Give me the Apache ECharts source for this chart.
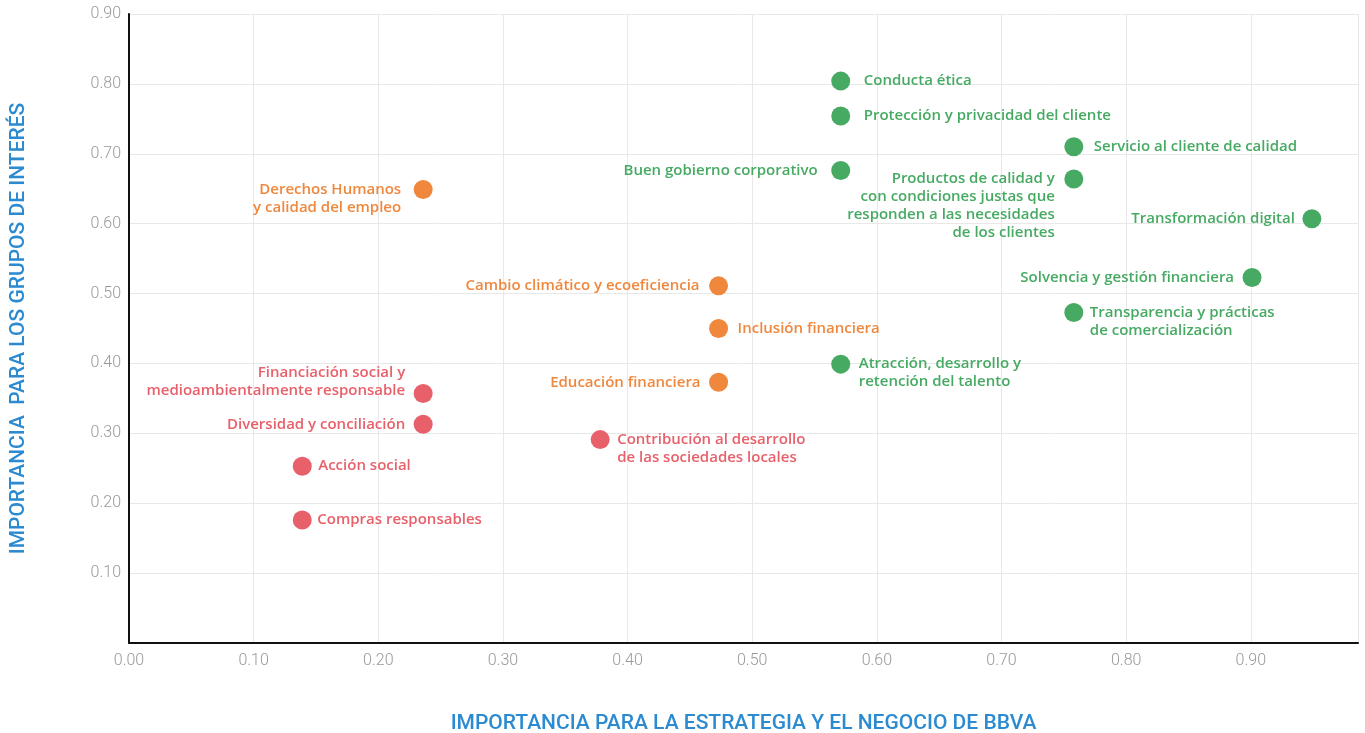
<!DOCTYPE html>
<html>
<head>
<meta charset="utf-8">
<script src="https://cdn.jsdelivr.net/npm/echarts@6/dist/echarts.min.js"></script>
<style>html,body{margin:0;padding:0;background:#fff}#c{width:1365px;height:733px}</style>
</head>
<body>
<div id="c"></div>
<script>
// ---- Data ----
const greenNames = ['Conducta ética','Protección y privacidad del cliente','Servicio al cliente de calidad','Buen gobierno corporativo','Productos de calidad y\ncon condiciones justas que\nresponden a las necesidades\nde los clientes','Transformación digital','Solvencia y gestión financiera','Transparencia y prácticas\nde comercialización','Atracción, desarrollo y\nretención del talento'];
const greenX = [0.571,0.571,0.758,0.571,0.758,0.949,0.901,0.758,0.571];
const greenY = [0.804,0.754,0.710,0.676,0.664,0.607,0.523,0.473,0.399];

const orangeNames = ['Derechos Humanos\ny calidad del empleo','Cambio climático y ecoeficiencia','Inclusión financiera','Educación financiera'];
const orangeX = [0.236,0.473,0.473,0.473];
const orangeY = [0.649,0.511,0.450,0.373];

const redNames = ['Financiación social y\nmedioambientalmente responsable','Diversidad y conciliación','Contribución al desarrollo\nde las sociedades locales','Acción social','Compras responsables'];
const redX = [0.236,0.236,0.378,0.139,0.139];
const redY = [0.357,0.313,0.291,0.253,0.176];

const xTitle = 'IMPORTANCIA PARA LA ESTRATEGIA Y EL NEGOCIO DE BBVA';
const yTitle = 'IMPORTANCIA  PARA LOS GRUPOS DE INTERÉS';

// ---- Label placement (style) ----
const greenPlace = ['R','R','R','L','L1','L','L','R1','R1'];
const orangePlace = ['L1','L','R','L'];
const redPlace = ['Ln','L','R1','R','R'];
const greenGap = [23,23,20,23,19,17,18,16,18];
const orangeGap = [22,19,19,18];
const redGap = [18,18,17,16,15];

const LH = 18;
const R = 9.5;
function build(names, xs, ys, place, gaps) {
  return names.map((n, i) => {
    const p = place[i];
    const lines = n.split('\n').length;
    let dy = 0;
    if (p.endsWith('1')) dy = (lines - 1) * LH / 2;
    else if (p.endsWith('n')) dy = -(lines - 1) * LH / 2 - 3;
    return {
      name: n,
      value: [xs[i], ys[i]],
      label: { position: p[0] === 'R' ? 'right' : 'left', offset: [0, dy], distance: gaps[i] - R }
    };
  });
}

const LFONT = 'Open Sans';
const TFONT = 'Roboto';
function series(name, color, data) {
  return {
    type: 'scatter', name, data,
    symbolSize: 19,
    itemStyle: { color: color, opacity: 1 },
    label: {
      show: true, formatter: p => p.name, color: color,
      fontFamily: LFONT, fontSize: 15, fontWeight: 600, lineHeight: LH
    },
    emphasis: { disabled: true }
  };
}

const chart = echarts.init(document.getElementById('c'));
chart.setOption({
  animation: false,
  grid: { left: 129, right: 7, top: 14, bottom: 90, outerBoundsMode: 'none', containLabel: false },
  xAxis: {
    type: 'value', min: 0, max: 0.986, interval: 0.1,
    name: xTitle, nameLocation: 'middle', nameGap: 70,
    nameTextStyle: { color: '#2b8ad0', fontFamily: TFONT, fontSize: 21, fontWeight: 500 },
    axisLine: { show: true, onZero: false, lineStyle: { color: '#111', width: 2 } },
    axisTick: { show: false },
    axisLabel: { color: '#999', fontFamily: TFONT, fontSize: 16, fontWeight: 300, margin: 10,
      formatter: v => (Math.abs(v * 10 - Math.round(v * 10)) < 1e-6) ? v.toFixed(2) : '' },
    splitLine: { show: true, lineStyle: { color: '#e8e8e8', width: 1 } }
  },
  yAxis: {
    type: 'value', min: 0, max: 0.9, interval: 0.1,
    name: yTitle, nameLocation: 'middle', nameGap: 100,
    nameTextStyle: { color: '#2b8ad0', fontFamily: TFONT, fontSize: 21, fontWeight: 500 },
    axisLine: { show: true, onZero: false, lineStyle: { color: '#111', width: 2 } },
    axisTick: { show: false },
    axisLabel: { color: '#999', fontFamily: TFONT, fontSize: 16, fontWeight: 300, margin: 8,
      formatter: v => v === 0 ? '' : v.toFixed(2) },
    splitLine: { show: true, lineStyle: { color: '#e8e8e8', width: 1 } }
  },
  series: [
    series('green', '#46aa63', build(greenNames, greenX, greenY, greenPlace, greenGap)),
    series('orange', '#ef873d', build(orangeNames, orangeX, orangeY, orangePlace, orangeGap)),
    series('red', '#e8606a', build(redNames, redX, redY, redPlace, redGap))
  ]
});
</script>
</body>
</html>
